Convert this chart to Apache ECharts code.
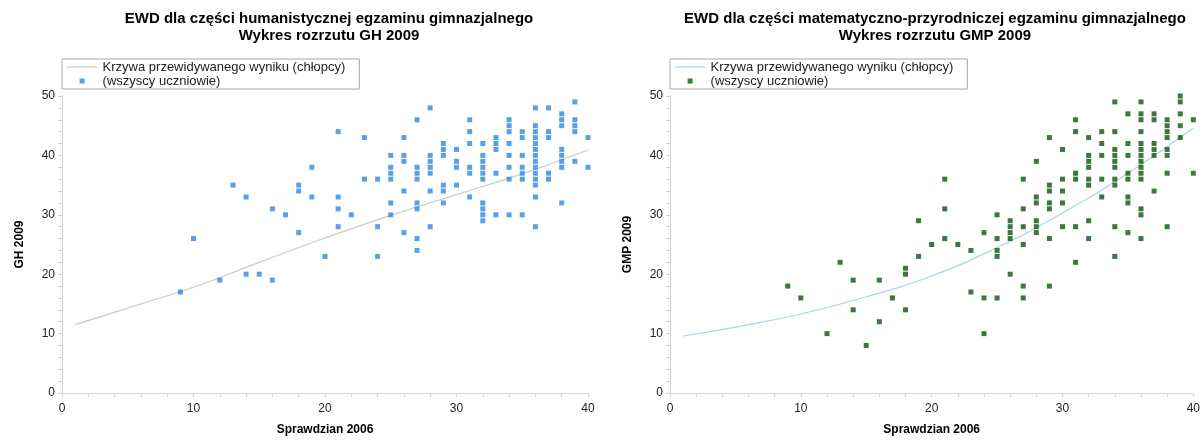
<!DOCTYPE html>
<html style="height: 100%">
<head>
    <meta charset="utf-8">
</head>
<body style="height: 100%; margin: 0">
<div id="container" style="width: 1203px; height: 441px"></div>

<script type="text/javascript" src="https://cdn.jsdelivr.net/npm/echarts@6/dist/echarts.min.js"></script>
<script type="text/javascript">
    // punkty: [wynik sprawdzianu 2006, wynik egzaminu 2009]
    var ghPoints = [
        [9, 17], [10, 26], [12, 19], [13, 35], [14, 33], [14, 20], [15, 20],
        [16, 31], [16, 19], [17, 30], [18, 35], [18, 34], [18, 27], [19, 38], [19, 33],
        [20, 23], [21, 44], [21, 33], [21, 31], [21, 28], [22, 30], [23, 43], [23, 36],
        [24, 36], [24, 28], [24, 23],
        [25, 40], [25, 38], [25, 37], [25, 36], [25, 32], [25, 30],
        [26, 43], [26, 40], [26, 39], [26, 34], [26, 27],
        [27, 46], [27, 38], [27, 37], [27, 36], [27, 32], [27, 31], [27, 26], [27, 24],
        [28, 48], [28, 40], [28, 39], [28, 38], [28, 37], [28, 34], [28, 28],
        [29, 42], [29, 41], [29, 40], [29, 35], [29, 34], [29, 32],
        [30, 41], [30, 39], [30, 38], [30, 35],
        [31, 46], [31, 44], [31, 42], [31, 38], [31, 37], [31, 33],
        [32, 42], [32, 40], [32, 39], [32, 38], [32, 37], [32, 36], [32, 32], [32, 31], [32, 30], [32, 29],
        [33, 43], [33, 42], [33, 41], [33, 37], [33, 30],
        [34, 46], [34, 45], [34, 44], [34, 42], [34, 40], [34, 38], [34, 36], [34, 30],
        [35, 44], [35, 43], [35, 40], [35, 38], [35, 37], [35, 36], [35, 30],
        [36, 48], [36, 45], [36, 44], [36, 43], [36, 42], [36, 41], [36, 40], [36, 39],
        [36, 38], [36, 37], [36, 36], [36, 35], [36, 33], [36, 28],
        [37, 48], [37, 44], [37, 43], [37, 37], [37, 36],
        [38, 47], [38, 46], [38, 45], [38, 41], [38, 40], [38, 39], [38, 38], [38, 32],
        [39, 49], [39, 46], [39, 45], [39, 44], [39, 39],
        [40, 43], [40, 38]
    ];
    var gmpPoints = [
        [9, 18], [10, 16], [12, 10], [13, 22], [14, 19], [14, 14], [15, 8],
        [16, 19], [16, 12], [17, 16], [18, 21], [18, 20], [18, 14], [19, 29], [19, 23],
        [20, 25], [21, 36], [21, 31], [21, 26], [22, 25], [23, 24], [23, 17],
        [24, 27], [24, 16], [24, 10],
        [25, 30], [25, 26], [25, 24], [25, 23], [25, 16],
        [26, 29], [26, 28], [26, 27], [26, 26], [26, 20],
        [27, 36], [27, 31], [27, 28], [27, 25], [27, 18], [27, 16],
        [28, 39], [28, 33], [28, 32], [28, 29], [28, 28], [28, 27],
        [29, 43], [29, 35], [29, 34], [29, 32], [29, 31], [29, 26], [29, 18],
        [30, 41], [30, 36], [30, 34], [30, 32], [30, 28],
        [31, 46], [31, 44], [31, 37], [31, 36], [31, 28], [31, 22],
        [32, 43], [32, 40], [32, 39], [32, 38], [32, 36], [32, 35], [32, 29], [32, 26],
        [33, 44], [33, 42], [33, 40], [33, 36], [33, 33],
        [34, 49], [34, 44], [34, 41], [34, 40], [34, 39], [34, 38], [34, 36], [34, 35], [34, 28], [34, 23],
        [35, 47], [35, 42], [35, 40], [35, 37], [35, 36], [35, 33], [35, 32], [35, 27],
        [36, 49], [36, 47], [36, 46], [36, 44], [36, 42], [36, 41], [36, 40], [36, 39],
        [36, 38], [36, 37], [36, 36], [36, 31], [36, 30], [36, 26],
        [37, 47], [37, 46], [37, 42], [37, 41], [37, 40], [37, 34],
        [38, 46], [38, 45], [38, 44], [38, 43], [38, 41], [38, 40], [38, 37], [38, 28],
        [39, 50], [39, 49], [39, 47], [39, 45], [39, 43],
        [40, 46], [40, 37]
    ];

    // krzywa przewidywanego wyniku
    var curveX = [1, 5, 10, 15, 20, 25, 30, 35, 40];
    var ghCurveY = [11.5, 14.3, 17.8, 22.0, 26.1, 29.9, 33.4, 36.9, 40.9];
    var gmpCurveY = [9.6, 11.1, 13.3, 16.2, 19.7, 24.5, 30.3, 37.0, 44.6];

    var titles = [
        'EWD dla części humanistycznej egzaminu gimnazjalnego\nWykres rozrzutu GH 2009',
        'EWD dla części matematyczno-przyrodniczej egzaminu gimnazjalnego\nWykres rozrzutu GMP 2009'
    ];
    var yNames = ['GH 2009', 'GMP 2009'];
    var curveName = 'Krzywa przewidywanego wyniku (chłopcy)';
    var pointsName = '(wszyscy uczniowie)';

    var dotColors = ['#2f87e4', '#0c5510'];
    var curveColors = ['#c4d0b6', '#a6d6e2'];

    var dom = document.getElementById('container');
    var myChart = echarts.init(dom);
    var option;

    var font = "'Liberation Sans', Arial, sans-serif";
    var axisColor = '#b4b4b4';

    function curveData(ys) {
        return curveX.map(function (x, i) { return [x, ys[i]]; });
    }

    var grids = [
        {left: 62, right: 615, top: 96, bottom: 45},
        {left: 670, right: 7, top: 96, bottom: 45}
    ];
    var centers = [324, 930];

    var xAxes = [], yAxes = [], series = [], legends = [], titleList = [];
    [0, 1].forEach(function (g) {
        titleList.push({
            text: titles[g],
            left: centers[g],
            top: 5,
            textAlign: 'center',
            textStyle: {fontSize: 15, fontWeight: 'bold', color: '#000', lineHeight: 17, fontFamily: font}
        });
        xAxes.push({
            gridIndex: g, type: 'value', min: 0, max: 40, interval: 10,
            name: 'Sprawdzian 2006', nameLocation: 'middle', nameGap: 31,
            nameTextStyle: {fontWeight: 'bold', fontSize: 12, color: '#000', fontFamily: font},
            axisLine: {lineStyle: {color: axisColor}},
            axisTick: {length: 4, lineStyle: {color: axisColor}},
            minorTick: {show: true, splitNumber: 5, length: 4, lineStyle: {color: axisColor}},
            splitLine: {show: false},
            axisLabel: {color: '#222', fontSize: 12, margin: 10, fontFamily: font}
        });
        xAxes.push({
            gridIndex: g, type: 'value', min: 0, max: 40, interval: 10, position: 'top',
            axisLine: {lineStyle: {color: '#d4d4d4'}},
            axisTick: {inside: true, length: 4, lineStyle: {color: '#d4d4d4'}},
            minorTick: {show: true, splitNumber: 5, length: 4, lineStyle: {color: '#d4d4d4'}},
            splitLine: {show: false},
            axisLabel: {show: false}
        });
        yAxes.push({
            gridIndex: g, type: 'value', min: 0, max: 50, interval: 10,
            name: yNames[g], nameLocation: 'middle', nameGap: 36,
            nameTextStyle: {fontWeight: 'bold', fontSize: 12, color: '#000', fontFamily: font},
            axisLine: {show: true, lineStyle: {color: axisColor}},
            axisTick: {show: true, length: 4, lineStyle: {color: axisColor}},
            minorTick: {show: true, splitNumber: 5, length: 4, lineStyle: {color: axisColor}},
            splitLine: {show: false},
            axisLabel: {color: '#222', fontSize: 12, margin: 7, fontFamily: font}
        });
        yAxes.push({
            gridIndex: g, type: 'value', min: 0, max: 50, interval: 10, position: 'right',
            axisLine: {show: true, lineStyle: {color: '#d4d4d4'}},
            axisTick: {show: true, inside: true, length: 4, lineStyle: {color: '#d4d4d4'}},
            minorTick: {show: true, splitNumber: 5, length: 4, lineStyle: {color: '#d4d4d4'}},
            splitLine: {show: false},
            axisLabel: {show: false}
        });
        series.push({
            name: curveName, type: 'line', smooth: true,
            xAxisIndex: g * 2, yAxisIndex: g * 2,
            symbol: 'none', z: 1,
            lineStyle: {color: curveColors[g], width: 1.2},
            data: curveData(g === 0 ? ghCurveY : gmpCurveY)
        });
        series.push({
            name: pointsName, type: 'scatter',
            xAxisIndex: g * 2, yAxisIndex: g * 2,
            symbol: 'rect', symbolSize: 5, z: 2,
            itemStyle: {color: dotColors[g]},
            data: g === 0 ? ghPoints : gmpPoints
        });
        legends.push({
            orient: 'vertical', left: grids[g].left, top: 59,
            itemWidth: 31, itemHeight: 5, itemGap: 0,
            padding: [1, 14, 1, 4],
            borderColor: '#a8a8a8', borderWidth: 1,
            textStyle: {fontSize: 13, lineHeight: 14, color: '#222', fontFamily: font},
            data: [
                {name: curveName, lineStyle: {color: curveColors[g], width: 1.2}, itemStyle: {opacity: 0}},
                {name: pointsName, icon: 'path://M0,0h1v1h-1z', itemStyle: {color: dotColors[g]}}
            ]
        });
    });

    option = {
        animation: false,
        backgroundColor: '#fff',
        title: titleList,
        legend: legends,
        grid: grids,
        xAxis: xAxes,
        yAxis: yAxes,
        series: series
    };

    if (option && typeof option === 'object') {
        myChart.setOption(option);
    }
</script>
</body>
</html>
